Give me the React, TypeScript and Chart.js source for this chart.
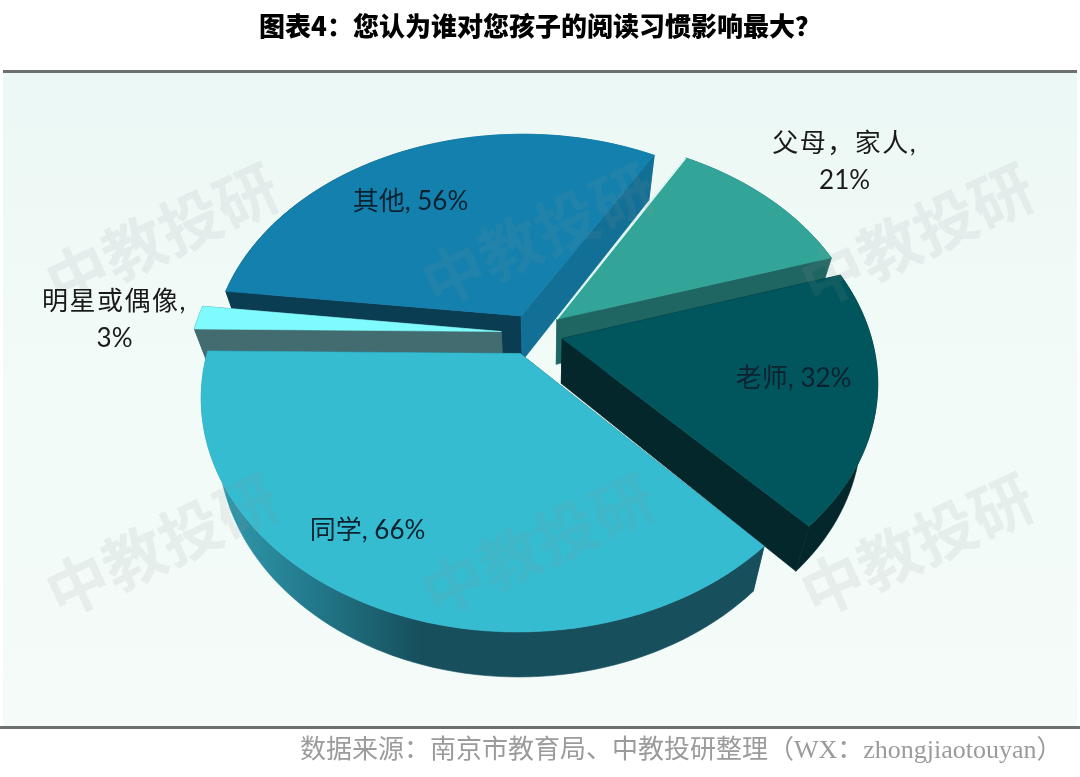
import React, { useEffect, useRef } from "react";
import { Chart, registerables } from "chart.js";

Chart.register(...registerables);

const categories = ["父母，家人", "老师", "同学", "明星或偶像", "其他"];
const values = [21, 32, 66, 3, 56];
const titleText = "图表4：您认为谁对您孩子的阅读习惯影响最大？";
const sourceText = "数据来源：南京市教育局、中教投研整理（WX：zhongjiaotouyan）";
const watermarkText = "中教投研";

const topColors = ["#33a598", "#00565c", "#35bcd1", "#80fbfd", "#1380ad"];
const startWall = ["#1f6663", "#03272a", "#1a5a68", "#426c70", "#0a3c52"];
const endWall = ["#1f6663", "#03272a", "#1a5a68", "#426c70", "#126f95"];
const outerWall = ["#1f6663", "#03272a", "#1a5a68", "#426c70", "#0a3c52"];
const offsets = [66, 64, 66, 68, 58];
const drawOrder = [4, 0, 1, 3, 2];
const labelRadius = [1.49, 0.84, 0.9, 1.376, 0.805];
const labelTurn = [1, -1, 7, -1, -7];
const labelWrap = [true, false, false, true, false];

const FONT = '"Lato","Noto Sans CJK SC",sans-serif';
const CX = 533, CY = 333, RX = 308, RY = 220, PERSP = 0.18, DEPTH = 45, VX = 545, SHRINK = 0.0011;

function project(u: number, v: number): [number, number] {
  const s = 1 / (1 + PERSP * v);
  return [CX + RX * u * s, CY - RY * v * s];
}
function drop(p: [number, number]): [number, number] {
  return [VX + (p[0] - VX) * (1 - DEPTH * SHRINK), p[1] + DEPTH];
}
function poly(ctx: CanvasRenderingContext2D, pts: [number, number][], fill: string | CanvasGradient) {
  ctx.beginPath();
  pts.forEach((p, i) => (i ? ctx.lineTo(p[0], p[1]) : ctx.moveTo(p[0], p[1])));
  ctx.closePath();
  ctx.fillStyle = fill;
  ctx.fill();
  ctx.strokeStyle = fill;
  ctx.lineWidth = 0.6;
  ctx.stroke();
}

const pie3d = {
  id: "pie3d",
  beforeDraw(chart: any) {
    const { ctx, width, height } = chart;
    ctx.save();
    ctx.fillStyle = "#ffffff";
    ctx.fillRect(0, 0, width, height);
    const g = ctx.createLinearGradient(0, 72, 0, 727);
    g.addColorStop(0, "#ecf8f5");
    g.addColorStop(0.5, "#f2fbf8");
    g.addColorStop(1, "#f4fbf8");
    ctx.fillStyle = g;
    ctx.fillRect(3, 72, 1074, 655);
    ctx.fillStyle = "#6b706f";
    ctx.fillRect(3, 70, 1074, 3);
    ctx.fillRect(0, 726, 1080, 3);
    ctx.restore();
  },
  beforeDatasetDraw(chart: any) {
    const { ctx } = chart;
    const arcs = chart.getDatasetMeta(0).data;
    ctx.save();
    drawOrder.forEach((i) => {
      const el = arcs[i];
      const p = el.getProps(["startAngle", "endAngle", "outerRadius"], true);
      const mid = (p.startAngle + p.endAngle) / 2;
      const off = (el.options.offset || 0) / 2 / p.outerRadius;
      const u0 = Math.cos(mid) * off;
      const v0 = -Math.sin(mid) * off;
      const apex = project(u0, v0);
      const rim: [number, number][] = [];
      const n = Math.max(4, Math.ceil((p.endAngle - p.startAngle) / 0.03));
      for (let k = 0; k <= n; k++) {
        const a = p.startAngle + ((p.endAngle - p.startAngle) * k) / n;
        rim.push(project(u0 + Math.cos(a), v0 - Math.sin(a)));
      }
      const rimLow = rim.map(drop);
      poly(ctx, [apex, rim[0], rimLow[0], drop(apex)], startWall[i]);
      poly(ctx, [apex, rim[n], rimLow[n], drop(apex)], endWall[i]);
      let wall: string | CanvasGradient = outerWall[i];
      if (i === 2) {
        const g = ctx.createLinearGradient(225, 0, 420, 0);
        g.addColorStop(0, "#2f98ab");
        g.addColorStop(0.45, "#22798b");
        g.addColorStop(1, "#174f5d");
        wall = g;
      }
      if (i === 4) {
        const g = ctx.createLinearGradient(300, 0, 500, 0);
        g.addColorStop(0, "#0a3c52");
        g.addColorStop(1, "#126f95");
        wall = g;
      }
      poly(ctx, [...rim, ...rimLow.slice().reverse()], wall);
      poly(ctx, [apex, ...rim], topColors[i]);
      if (i === 0) {
        ctx.strokeStyle = "#dff8f5";
        ctx.lineWidth = 1.6;
        ctx.beginPath();
        ctx.moveTo(apex[0], apex[1]);
        ctx.lineTo(rim[0][0], rim[0][1]);
        ctx.stroke();
      }
    });
    ctx.restore();
    return false;
  },
  afterDatasetsDraw(chart: any) {
    const { ctx } = chart;
    const arcs = chart.getDatasetMeta(0).data;
    ctx.save();
    // watermarks
    ctx.textAlign = "center";
    ctx.textBaseline = "middle";
    ctx.fillStyle = "rgba(140,150,150,0.12)";
    ctx.font = '700 62px "Noto Sans CJK SC",sans-serif';
    [162, 538, 917].forEach((x) =>
      [235, 545].forEach((y) => {
        ctx.save();
        ctx.translate(x, y);
        ctx.rotate((-25 * Math.PI) / 180);
        ctx.fillText(watermarkText, 0, 0);
        ctx.restore();
      })
    );
    // data labels
    arcs.forEach((el: any, i: number) => {
      const p = el.getProps(["startAngle", "endAngle"], true);
      const a = (p.startAngle + p.endAngle) / 2 + (labelTurn[i] * Math.PI) / 180;
      const [x, y] = project(Math.cos(a) * labelRadius[i], -Math.sin(a) * labelRadius[i]);
      ctx.font = `400 26px ${FONT}`;
      ctx.fillStyle = i === 0 || i === 3 ? "#1a1a1a" : "#0c2230";
      if (labelWrap[i]) {
        (ctx as any).letterSpacing = "1.5px";
        ctx.fillText(`${categories[i]},`, x, y - 17);
        (ctx as any).letterSpacing = "0px";
        ctx.fillText(`${values[i]}%`, x, y + 20);
      } else {
        ctx.fillText(`${categories[i]}, ${values[i]}%`, x, y);
      }
    });
    // source
    ctx.textAlign = "left";
    ctx.fillStyle = "#9b9b9b";
    ctx.font = '26px "Liberation Serif","Noto Sans CJK SC",serif';
    ctx.fillText(sourceText, 300, 751);
    ctx.restore();
  },
};

export default function App() {
  const ref = useRef<HTMLCanvasElement>(null);
  useEffect(() => {
    document.body.style.margin = "0";
    const chart = new Chart(ref.current!, {
      type: "pie",
      data: {
        labels: categories,
        datasets: [{ data: values, backgroundColor: topColors, offset: offsets, borderWidth: 0 }],
      },
      options: {
        responsive: false,
        animation: false,
        rotation: 30,
        events: [],
        plugins: {
          legend: { display: false },
          tooltip: { enabled: false },
          title: {
            display: true,
            text: titleText,
            color: "#000000",
            font: { family: '"Noto Sans CJK SC",sans-serif', size: 26, weight: "900" },
            padding: { top: 11, bottom: 10 },
          },
        },
      },
      plugins: [pie3d],
    } as any);
    return () => chart.destroy();
  }, []);
  return <canvas ref={ref} width={1080} height={777} style={{ display: "block" }} />;
}
